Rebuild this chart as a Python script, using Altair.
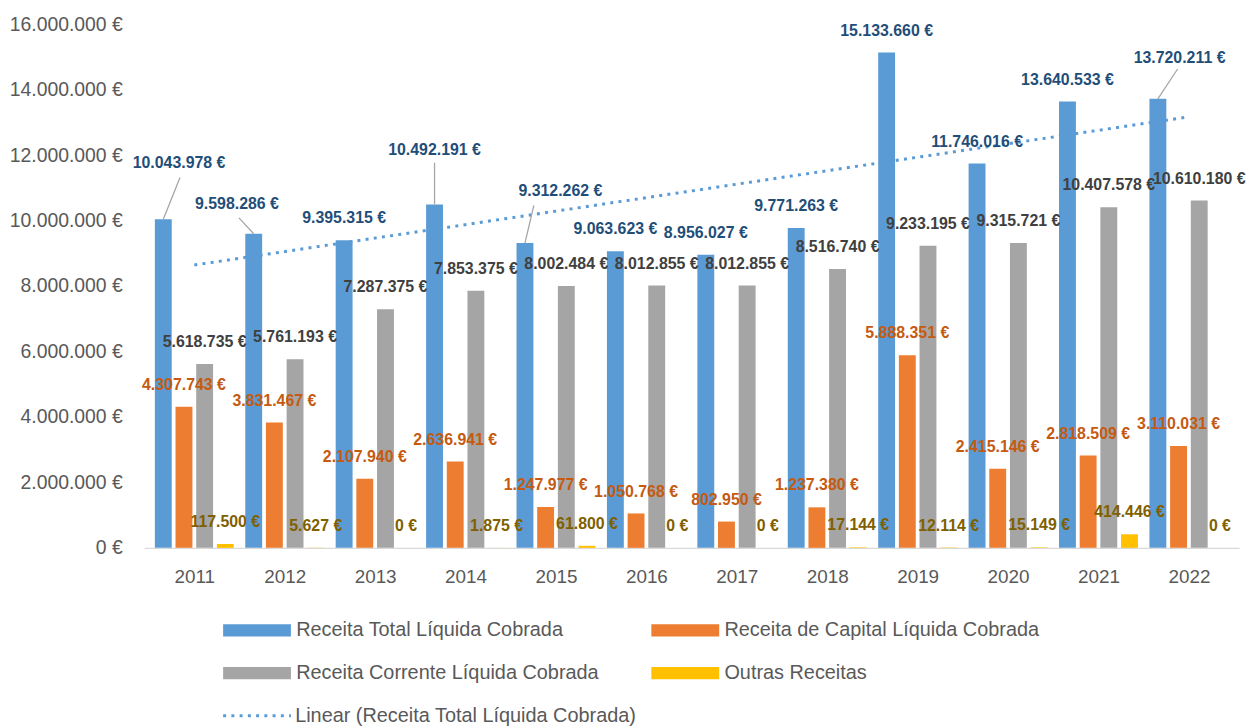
import altair as alt
import pandas as pd

# ---------------- data ----------------
YEARS = [2011, 2012, 2013, 2014, 2015, 2016, 2017, 2018, 2019, 2020, 2021, 2022]
SERIES = [
    "Receita Total Líquida Cobrada",
    "Receita de Capital Líquida Cobrada",
    "Receita Corrente Líquida Cobrada",
    "Outras Receitas",
]
TOTAL = [10043978, 9598286, 9395315, 10492191, 9312262, 9063623,
         8956027, 9771263, 15133660, 11746016, 13640533, 13720211]
CAPITAL = [4307743, 3831467, 2107940, 2636941, 1247977, 1050768,
           802950, 1237380, 5888351, 2415146, 2818509, 3110031]
CORRENTE = [5618735, 5761193, 7287375, 7853375, 8002484, 8012855,
            8012855, 8516740, 9233195, 9315721, 10407578, 10610180]
OUTRAS = [117500, 5627, 0, 1875, 61800, 0, 0, 17144, 12114, 15149, 414446, 0]
TREND_NAME = "Linear (Receita Total Líquida Cobrada)"

# ---------------- style / layout ----------------
COLORS = ["#5B9BD5", "#ED7D31", "#A5A5A5", "#FFC000"]
LABEL_COLORS = ["#1F4E79", "#C55A11", "#404040", "#7F6000"]
TEXT_GREY = "#595959"
PLOT_W, PLOT_H = 1102, 527
Y_MAX = 16_000_000
STEP_PX = PLOT_W / len(YEARS)
SUB_PX = 21
BAR_PX = 17
EUR_PER_PX = Y_MAX / PLOT_H
LABEL_FONT = "Liberation Sans"
AXIS_FONT = "Liberation Sans"

# moved data labels of the total series (pixel nudges) and their leader lines
BLUE_NUDGE = {2011: (16, 34), 2012: (-17, 8), 2014: (0, 33), 2015: (36, 30), 2022: (22, 19)}
LEADER_END = {2011: (17, 42), 2012: (-15, 16), 2014: (0, 42), 2015: (9, 38), 2022: (20, 30)}


def fmt(v):
    return f"{v:,}".replace(",", ".") + " €"


rows = []
for si, (name, vals) in enumerate(zip(SERIES, [TOTAL, CAPITAL, CORRENTE, OUTRAS])):
    off = (si - 1.5) * SUB_PX / STEP_PX
    for yr, v in zip(YEARS, vals):
        ndx, nup = BLUE_NUDGE.get(yr, (0, 0)) if si == 0 else (0, 0)
        rows.append(dict(year=yr, series=name, value=v, label=fmt(v),
                         x=yr + off, lx=yr + off + ndx / STEP_PX,
                         ly=v + nup * EUR_PER_PX))
df = pd.DataFrame(rows)

lead_rows = []
for yr, (dxp, upp) in LEADER_END.items():
    v = TOTAL[YEARS.index(yr)]
    x0 = yr - 1.5 * SUB_PX / STEP_PX
    lead_rows.append(dict(x=x0, y=v, x2=x0 + dxp / STEP_PX, y2=v + upp * EUR_PER_PX))
lead_df = pd.DataFrame(lead_rows)

trend_df = pd.DataFrame({"year": YEARS, "value": TOTAL})

# ---------------- chart ----------------
x_scale = alt.Scale(domain=[YEARS[0] - 0.5, YEARS[-1] + 0.5], nice=False, zero=False)
y_scale = alt.Scale(domain=[0, Y_MAX], nice=False)

y_label_expr = "replace(replace(format(datum.value, ','), ',', '.'), ',', '.') + ' €'"

bars = alt.Chart(df).mark_bar(size=BAR_PX).encode(
    x=alt.X("x:Q", scale=x_scale,
            axis=alt.Axis(values=YEARS, format="d", title=None, grid=False,
                          ticks=False, tickSize=0, domainColor="#D9D9D9",
                          domainWidth=1.3, labelFontSize=19, labelColor=TEXT_GREY,
                          labelFont=AXIS_FONT, labelPadding=20)),
    y=alt.Y("value:Q", stack=None, scale=y_scale,
            axis=alt.Axis(values=list(range(0, Y_MAX + 1, 2_000_000)),
                          labelExpr=y_label_expr, title=None, grid=False,
                          ticks=False, tickSize=0, domain=False,
                          labelFontSize=19.5, labelColor=TEXT_GREY,
                          labelFont=AXIS_FONT, labelPadding=22)),
    color=alt.Color("series:N", scale=alt.Scale(domain=SERIES, range=COLORS),
                    legend=alt.Legend(orient="none", legendX=76, legendY=600,
                                      direction="horizontal",
                                      columns=2, title=None,
                                      symbolType="M-1,-0.95H9.5V0.95H-1Z",
                                      symbolSize=169, symbolStrokeWidth=0,
                                      labelOffset=57, labelFontSize=20,
                                      labelColor=TEXT_GREY, labelFont=AXIS_FONT,
                                      columnPadding=49, rowPadding=23,
                                      labelLimit=500)),
)

trend = alt.Chart(trend_df).transform_regression(
    "year", "value"
).transform_calculate(
    trend=f"'{TREND_NAME}'"
).mark_line(color=COLORS[0], strokeWidth=3, strokeCap="butt").encode(
    x=alt.X("year:Q"),
    y=alt.Y("value:Q"),
    strokeDash=alt.StrokeDash(
        "trend:N",
        scale=alt.Scale(domain=[TREND_NAME], range=[[3, 5.3]]),
        legend=alt.Legend(orient="none", legendX=76, legendY=686, title=None,
                          symbolType="M-1,0H9.5", symbolSize=169,
                          symbolStrokeWidth=3, symbolStrokeColor=COLORS[0],
                          labelOffset=56, labelFontSize=20, labelColor=TEXT_GREY,
                          labelFont=AXIS_FONT, labelLimit=500)),
)

leaders = alt.Chart(lead_df).mark_rule(color="#A6A6A6", strokeWidth=1.3).encode(
    x="x:Q", x2="x2:Q", y="y:Q", y2="y2:Q"
)

label_layers = []
for si, name in enumerate(SERIES):
    label_layers.append(
        alt.Chart(df[df["series"] == name]).mark_text(
            font=LABEL_FONT, fontSize=16, fontWeight="bold",
            color=LABEL_COLORS[si], baseline="middle", dy=-22
        ).encode(x="lx:Q", y="ly:Q", text="label:N")
    )

chart = alt.layer(bars, trend, leaders, *label_layers).properties(
    width=PLOT_W, height=PLOT_H,
    autosize=alt.AutoSizeParams(type="none"),
    padding={"left": 137, "top": 14, "right": 12, "bottom": 180},
).configure(
    font=AXIS_FONT, background="white",
    view=alt.ViewConfig(stroke="transparent"),
)

chart.save("out.html", embed_options={"renderer": "svg", "actions": False})
